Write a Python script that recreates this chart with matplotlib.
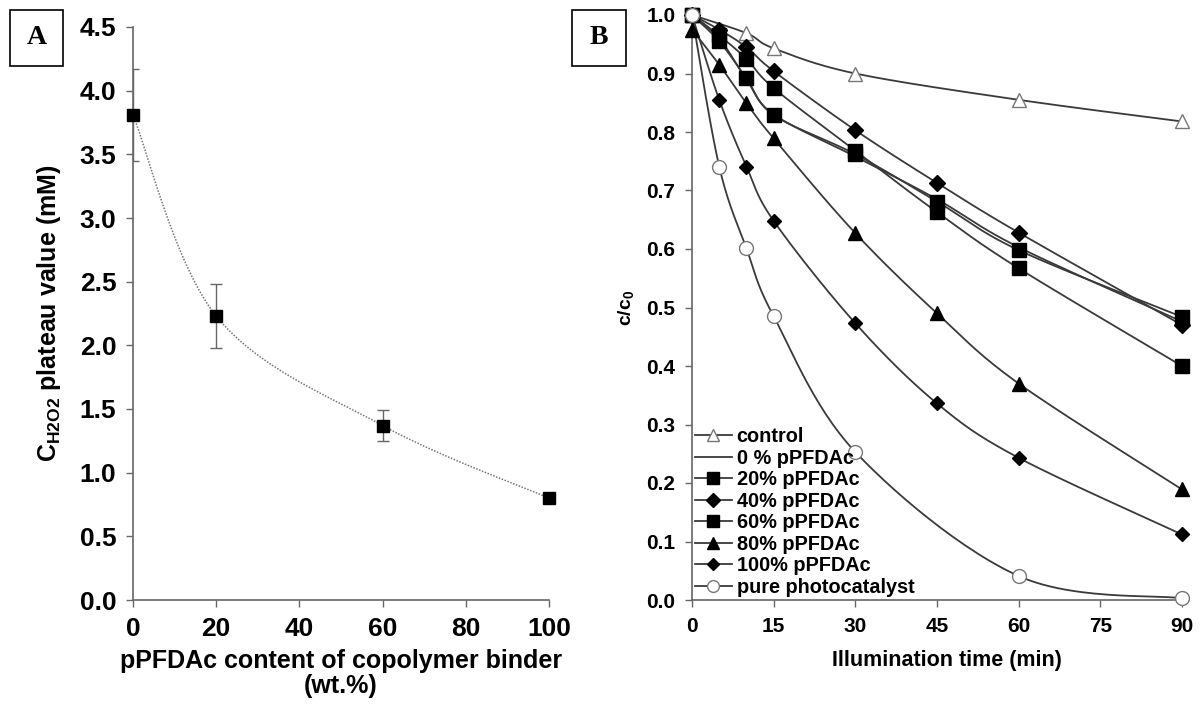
import numpy as np
import matplotlib
matplotlib.use("Agg")
import matplotlib.pyplot as plt
from matplotlib.lines import Line2D
from matplotlib.patches import Rectangle

plt.rcParams['font.family'] = ['Liberation Sans', 'DejaVu Sans']
plt.rcParams['font.weight'] = 'bold'
plt.rcParams['mathtext.fontset'] = 'custom'
plt.rcParams['mathtext.rm'] = 'Liberation Sans:bold'
plt.rcParams['mathtext.it'] = 'Liberation Sans:bold'
plt.rcParams['mathtext.bf'] = 'Liberation Sans:bold'

# --- panel A: H2O2 plateau vs binder composition
binder_pct = [0, 20, 60, 100]
h2o2_plateau = [3.81, 2.23, 1.37, 0.80]
h2o2_err = [0.36, 0.25, 0.12, 0.0]

# --- panel B: c/c0 vs illumination time
t_all = [0, 5, 10, 15, 30, 45, 60, 90]
t_control = [0, 10, 15, 30, 60, 90]
t_pure = [0, 5, 10, 15, 30, 60, 90]

c_control = [1.0, 0.969, 0.943, 0.900, 0.855, 0.818]
c_0pct = [1.0, 0.960, 0.890, 0.830, 0.758, 0.685, 0.603, 0.476]
c_20pct = [1.0, 0.955, 0.892, 0.829, 0.762, 0.681, 0.598, 0.484]
c_40pct = [1.0, 0.975, 0.945, 0.904, 0.803, 0.713, 0.628, 0.470]
c_60pct = [1.0, 0.965, 0.925, 0.875, 0.768, 0.663, 0.567, 0.400]
c_80pct = [0.975, 0.915, 0.849, 0.789, 0.627, 0.490, 0.370, 0.189]
c_100pct = [1.0, 0.855, 0.741, 0.648, 0.473, 0.336, 0.243, 0.112]
c_pure = [1.0, 0.741, 0.601, 0.485, 0.253, 0.041, 0.003]

LINE = '#3a3a3a'
AXC = '#666666'


def smooth(x, y, n=30):
    # Excel-like smoothed line: cubic Bezier through the points
    P = np.column_stack([x, y]).astype(float)
    ext = np.vstack([P[0], P, P[-1]])
    t = np.linspace(0, 1, n)[1:, None]
    out = [P[:1]]
    for i in range(len(P) - 1):
        p0, p1 = ext[i + 1], ext[i + 2]
        c1 = p0 + (ext[i + 2] - ext[i]) / 6
        c2 = p1 - (ext[i + 3] - ext[i + 1]) / 6
        out.append((1 - t) ** 3 * p0 + 3 * (1 - t) ** 2 * t * c1
                   + 3 * (1 - t) * t ** 2 * c2 + t ** 3 * p1)
    s = np.vstack(out)
    return s[:, 0], s[:, 1]


def style_axes(ax, size):
    for side in ['top', 'right']:
        ax.spines[side].set_visible(False)
    for side in ['left', 'bottom']:
        ax.spines[side].set_color(AXC)
        ax.spines[side].set_linewidth(1.2)
    ax.tick_params(direction='out', length=5, width=1, color=AXC,
                   labelsize=size, pad=7)


fig = plt.figure(figsize=(12.03, 7.04), dpi=100)
W, H = 1203, 704

# panel A
axA = fig.add_axes([133 / W, 1 - 600 / H, 416 / W, 573 / H])
axA.set_xlim(0, 100)
axA.set_ylim(0, 4.5)
sx, sy = smooth(binder_pct, h2o2_plateau)
axA.plot(sx, sy, color='#777777', lw=1.1, ls=(0, (1, 1)), zorder=2)
axA.errorbar(binder_pct[:3], h2o2_plateau[:3], yerr=h2o2_err[:3], fmt='none',
             ecolor=AXC, elinewidth=1, capsize=4, capthick=1, zorder=3)
axA.plot(binder_pct, h2o2_plateau, ls='none', marker='s', ms=8.5,
         color='black', zorder=4, clip_on=False)
axA.set_xticks([0, 20, 40, 60, 80, 100])
axA.set_yticks(np.arange(0, 4.51, 0.5))
axA.set_yticklabels([f'{v:.1f}' for v in np.arange(0, 4.51, 0.5)])
style_axes(axA, 19)
axA.set_xlabel('pPFDAc content of copolymer binder\n(wt.%)', fontsize=18,
               fontweight='bold', labelpad=6, linespacing=1.05)
axA.set_ylabel(r'C$_{\mathrm{H2O2}}$ plateau value (mM)', fontsize=18,
               fontweight='bold', labelpad=12)

# panel B
axB = fig.add_axes([692 / W, 1 - 600 / H, 490 / W, 585 / H])
axB.set_xlim(0, 90)
axB.set_ylim(0, 1.0)

series = [
    ('control', t_control, c_control, dict(marker='^', ms=9.5, mfc='white', mec='#777777', mew=1)),
    ('0 % pPFDAc', t_all, c_0pct, dict(marker='None')),
    ('20% pPFDAc', t_all, c_20pct, dict(marker='s', ms=9.5, mfc='black', mec='black')),
    ('40% pPFDAc', t_all, c_40pct, dict(marker='D', ms=8, mfc='black', mec='black')),
    ('60% pPFDAc', t_all, c_60pct, dict(marker='s', ms=9.5, mfc='black', mec='black')),
    ('80% pPFDAc', t_all, c_80pct, dict(marker='^', ms=9.5, mfc='black', mec='black')),
    ('100% pPFDAc', t_all, c_100pct, dict(marker='D', ms=7, mfc='black', mec='black')),
    ('pure photocatalyst', t_pure, c_pure, dict(marker='o', ms=10, mfc='white', mec='#777777', mew=1)),
]

handles = []
for label, t, c, mk in series:
    sx, sy = smooth(t, c)
    axB.plot(sx, sy, color=LINE, lw=1.3, zorder=2)
    if mk['marker'] != 'None':
        axB.plot(t, c, ls='none', zorder=4, clip_on=False, **mk)
    handles.append(Line2D([], [], color=LINE, lw=1.3, label=label, **mk))

axB.set_xticks(np.arange(0, 91, 15))
axB.set_yticks(np.arange(0, 1.01, 0.1))
axB.set_yticklabels([f'{v:.1f}' for v in np.arange(0, 1.01, 0.1)])
style_axes(axB, 15)
axB.set_xlabel('Illumination time (min)', fontsize=15.5, fontweight='bold')
axB.xaxis.set_label_coords(0.52, -0.085)
axB.set_ylabel(r'c/c$_{\mathrm{0}}$', fontsize=14, fontweight='bold', labelpad=7)

leg = axB.legend(handles=handles, loc='lower left', bbox_to_anchor=(0.0, 0.0),
                 frameon=False, fontsize=14.3, numpoints=1, handlelength=1.85,
                 handletextpad=0.25, labelspacing=0.13, borderpad=0.05,
                 borderaxespad=0.1, markerscale=0.85)
for txt in leg.get_texts():
    txt.set_fontweight('bold')

# panel letters in boxes
for x0, x1, y0, y1, letter in [(10, 63, 10, 66, 'A'), (572, 626, 10, 66, 'B')]:
    fig.add_artist(Rectangle((x0 / W, 1 - y1 / H), (x1 - x0) / W, (y1 - y0) / H,
                             transform=fig.transFigure, fill=False,
                             edgecolor='black', lw=1.2))
    fig.text((x0 + x1) / 2 / W, 1 - (y0 + y1) / 2 / H, letter,
             fontsize=20, fontweight='bold', family='Liberation Serif',
             ha='center', va='center')

fig.savefig('out.png', dpi=100, facecolor='white')
